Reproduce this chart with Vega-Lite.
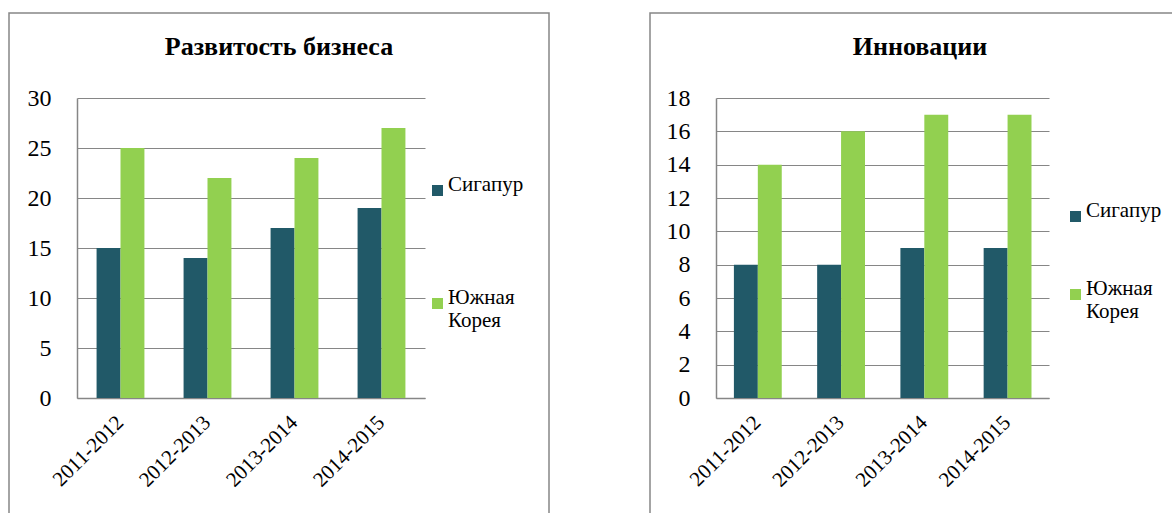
{
  "$schema": "https://vega.github.io/schema/vega-lite/v6.json",
  "padding": {"left": 8, "top": 12, "right": 0, "bottom": 0},
  "background": "white",
  "spacing": 99,
  "datasets": {
    "biz": [
      {"period": "2011-2012", "country": "Сигапур", "value": 15},
      {"period": "2011-2012", "country": "Южная Корея", "value": 25},
      {"period": "2012-2013", "country": "Сигапур", "value": 14},
      {"period": "2012-2013", "country": "Южная Корея", "value": 22},
      {"period": "2013-2014", "country": "Сигапур", "value": 17},
      {"period": "2013-2014", "country": "Южная Корея", "value": 24},
      {"period": "2014-2015", "country": "Сигапур", "value": 19},
      {"period": "2014-2015", "country": "Южная Корея", "value": 27}
    ],
    "inn": [
      {"period": "2011-2012", "country": "Сигапур", "value": 8},
      {"period": "2011-2012", "country": "Южная Корея", "value": 14},
      {"period": "2012-2013", "country": "Сигапур", "value": 8},
      {"period": "2012-2013", "country": "Южная Корея", "value": 16},
      {"period": "2013-2014", "country": "Сигапур", "value": 9},
      {"period": "2013-2014", "country": "Южная Корея", "value": 17},
      {"period": "2014-2015", "country": "Сигапур", "value": 9},
      {"period": "2014-2015", "country": "Южная Корея", "value": 17}
    ]
  },
  "hconcat": [
    {
      "width": 540,
      "height": 510,
      "data": {"name": "biz"},
      "title": {"text": "Развитость бизнеса", "frame": "group", "anchor": "middle", "offset": -68, "baseline": "alphabetic", "fontSize": 26, "fontWeight": "bold", "font": "Liberation Serif", "color": "black"},
      "mark": {"type": "bar"},
      "encoding": {
        "x": {"field": "period", "type": "nominal", "sort": null,
          "scale": {"range": [68, 416], "paddingInner": 0.45, "paddingOuter": 0.225},
          "axis": {"title": null, "orient": "bottom", "offset": -125, "labelAngle": -45, "labelAlign": "right", "labelBaseline": "middle", "labelPadding": 21, "ticks": false, "tickSize": 0, "grid": false, "domainColor": "#868686", "domainWidth": 1.5, "labelFont": "Liberation Serif", "labelFontSize": 21, "labelColor": "black"}},
        "xOffset": {"field": "country", "type": "nominal", "sort": ["Сигапур", "Южная Корея"]},
        "y": {"field": "value", "type": "quantitative",
          "scale": {"domain": [0, 30], "range": [385, 85], "nice": false, "zero": true},
          "axis": {"title": null, "values": [0, 5, 10, 15, 20, 25, 30], "offset": -68, "labelPadding": 26, "ticks": false, "tickSize": 0, "grid": true, "gridColor": "#868686", "gridWidth": 1.2, "domainColor": "#868686", "domainWidth": 1.5, "labelFont": "Liberation Serif", "labelFontSize": 24, "labelColor": "black"}},
        "color": {"field": "country", "type": "nominal",
          "scale": {"domain": ["Сигапур", "Южная Корея"], "range": ["#215968", "#92D050"]},
          "legend": {"title": null, "orient": "none", "legendX": 418, "legendY": 167, "padding": 0, "symbolType": "square", "symbolSize": 121, "symbolStrokeWidth": 0, "labelFont": "Liberation Serif", "labelFontSize": 21, "labelColor": "black", "labelOffset": 0, "rowPadding": 90, "labelBaseline": "alphabetic", "labelLimit": 300,
            "labelExpr": "datum.label == 'Южная Корея' ? ['Южная', 'Корея'] : datum.label",
            "encode": {"labels": {"update": {"dy": {"value": 9}, "lineHeight": {"value": 25}, "font": {"value": "Liberation Serif"}}}}}}
      }
    },
    {
      "width": 540,
      "height": 510,
      "data": {"name": "inn"},
      "title": {"text": "Инновации", "frame": "group", "anchor": "middle", "offset": -68, "baseline": "alphabetic", "fontSize": 26, "fontWeight": "bold", "font": "Liberation Serif", "color": "black"},
      "mark": {"type": "bar"},
      "encoding": {
        "x": {"field": "period", "type": "nominal", "sort": null,
          "scale": {"range": [66, 399], "paddingInner": 0.43, "paddingOuter": 0.215},
          "axis": {"title": null, "orient": "bottom", "offset": -125, "labelAngle": -45, "labelAlign": "right", "labelBaseline": "middle", "labelPadding": 21, "ticks": false, "tickSize": 0, "grid": false, "domainColor": "#868686", "domainWidth": 1.5, "labelFont": "Liberation Serif", "labelFontSize": 21, "labelColor": "black"}},
        "xOffset": {"field": "country", "type": "nominal", "sort": ["Сигапур", "Южная Корея"]},
        "y": {"field": "value", "type": "quantitative",
          "scale": {"domain": [0, 18], "range": [385, 85], "nice": false, "zero": true},
          "axis": {"title": null, "values": [0, 2, 4, 6, 8, 10, 12, 14, 16, 18], "offset": -66, "labelPadding": 26, "ticks": false, "tickSize": 0, "grid": true, "gridColor": "#868686", "gridWidth": 1.2, "domainColor": "#868686", "domainWidth": 1.5, "labelFont": "Liberation Serif", "labelFontSize": 24, "labelColor": "black"}},
        "color": {"field": "country", "type": "nominal",
          "scale": {"domain": ["Сигапур", "Южная Корея"], "range": ["#215968", "#92D050"]},
          "legend": {"title": null, "orient": "none", "legendX": 415, "legendY": 193, "padding": 0, "symbolType": "square", "symbolSize": 121, "symbolStrokeWidth": 0, "labelFont": "Liberation Serif", "labelFontSize": 21, "labelColor": "black", "labelOffset": 0, "rowPadding": 55, "labelBaseline": "alphabetic", "labelLimit": 300,
            "labelExpr": "datum.label == 'Южная Корея' ? ['Южная', 'Корея'] : datum.label",
            "encode": {"labels": {"update": {"dy": {"value": 9}, "lineHeight": {"value": 25}, "font": {"value": "Liberation Serif"}}}}}}
      }
    }
  ],
  "resolve": {"scale": {"color": "independent"}, "legend": {"color": "independent"}},
  "config": {
    "font": "Liberation Serif",
    "axis": {"labelFont": "Liberation Serif"},
    "legend": {"labelFont": "Liberation Serif"},
    "title": {"font": "Liberation Serif"},
    "view": {"stroke": "#868686", "strokeWidth": 1.5},
    "bar": {"stroke": null}
  }
}
